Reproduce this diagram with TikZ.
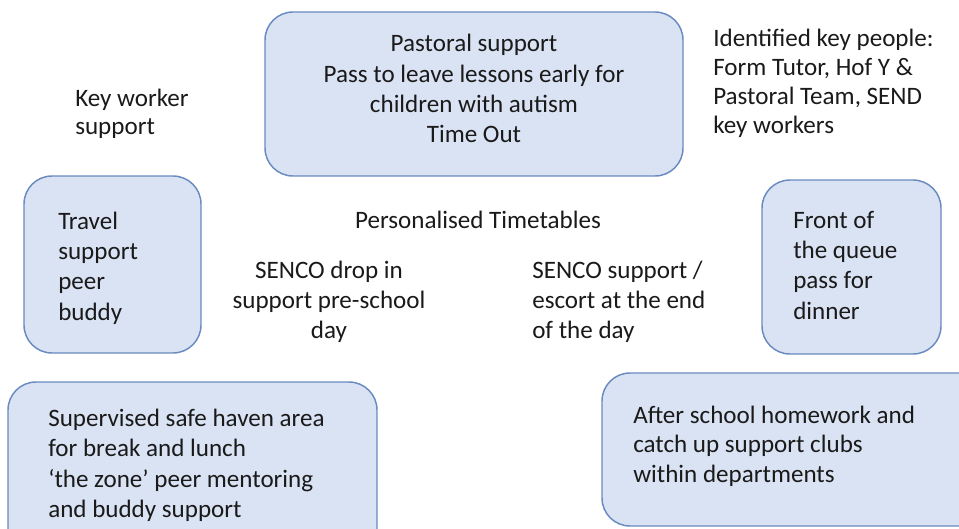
\documentclass[tikz,border=0pt]{standalone}
\usepackage{fontspec}
\setmainfont{Carlito}
\definecolor{boxfill}{HTML}{DAE3F3}
\definecolor{boxline}{HTML}{6A8BC0}
\definecolor{txt}{HTML}{1A1A1A}
\tikzset{
  panel/.style={draw=boxline, fill=boxfill, line width=1.1pt, rounded corners=21pt},
  lbl/.style={inner sep=0pt, text=txt, font=\fontsize{18.8}{22}\selectfont},
}
\begin{document}
\begin{tikzpicture}[x=0.75pt,y=-0.75pt]
\useasboundingbox (0,0) rectangle (959,528);
\clip (0,0) rectangle (959,528);
\fill[white] (0,0) rectangle (959,528);
% boxes
\draw[panel] (265,12) rectangle (683,176);
\draw[panel] (24,176) rectangle (201,353);
\draw[panel] (762,180) rectangle (941,354);
\draw[panel] (8,382) rectangle (377,560);
\draw[panel] (602,373) rectangle (990,526);
% top box text
\foreach \t [count=\i] in {Pastoral support, Pass to leave lessons early for, children with autism, Time Out}
  \node[lbl, anchor=base] (top\i) at (474,{22+30*\i}) {\t};
% key worker
\node[lbl, anchor=base west] (kw1) at (75,106.5) {Key worker};
\node[lbl, anchor=base west] (kw2) at (75,134) {support};
% identified
\foreach \t [count=\i] in {Identified key people:, {Form Tutor, Hof Y \&}, {Pastoral Team, SEND}, key workers}
  \node[lbl, anchor=base west] (id\i) at (713,{17+29.2*\i}) {\t};
% personalised
\node[lbl, anchor=base] (pt) at (478,228) {Personalised Timetables};
% SENCO drop in
\foreach \t [count=\i] in {SENCO drop in, support pre-school, day}
  \node[lbl, anchor=base] (sd\i) at (329,{248+30*\i}) {\t};
% SENCO support
\foreach \t [count=\i] in {SENCO support /, escort at the end, of the day}
  \node[lbl, anchor=base west] (ss\i) at (532,{248+30*\i}) {\t};
% travel
\foreach \t [count=\i] in {Travel, support, peer, buddy}
  \node[lbl, anchor=base west] (tr\i) at (58,{199+30.3*\i}) {\t};
% front of queue
\foreach \t [count=\i] in {Front of, the queue, pass for, dinner}
  \node[lbl, anchor=base west] (fq\i) at (793,{198+30.3*\i}) {\t};
% safe haven
\foreach \t [count=\i] in {Supervised safe haven area, for break and lunch, {‘the zone’ peer mentoring}, and buddy support}
  \node[lbl, anchor=base west] (sh\i) at (48,{395.5+30.5*\i}) {\t};
% after school
\foreach \t [count=\i] in {After school homework and, catch up support clubs, within departments}
  \node[lbl, anchor=base west] (as\i) at (633,{393.5+29.5*\i}) {\t};
\end{tikzpicture}
\end{document}
